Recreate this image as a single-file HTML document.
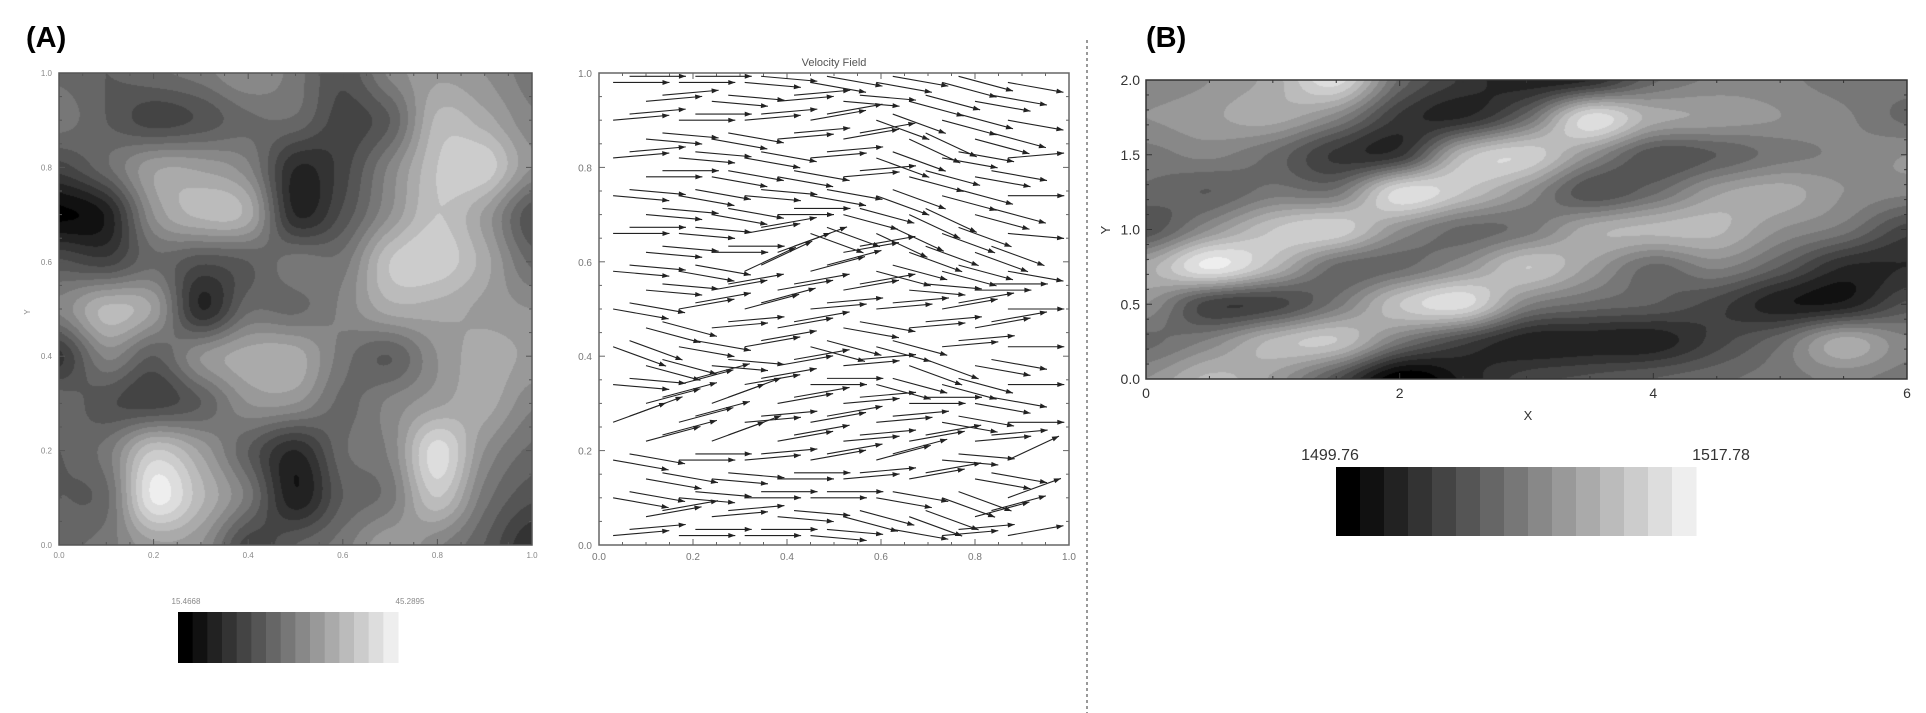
<!DOCTYPE html>
<html><head><meta charset="utf-8">
<style>
html,body{margin:0;padding:0;background:#fff;}
#root{position:relative;width:1926px;height:713px;overflow:hidden;background:#fff;font-family:"Liberation Sans",sans-serif;}
canvas{position:absolute;}
svg{position:absolute;left:0;top:0;}
.pl{position:absolute;font-weight:bold;font-size:29px;color:#000;}
</style></head>
<body>
<div id="root">
<div class="pl" style="left:26px;top:22px;">(A)</div>
<div class="pl" style="left:1146px;top:22px;">(B)</div>
<canvas id="cA" width="473" height="472" style="left:59px;top:73px;"></canvas>
<canvas id="cB" width="761" height="299" style="left:1146px;top:80px;"></canvas>
<svg id="sv" width="1926" height="713"></svg>
</div>
<script>
// ---- Panel A scalar field (rows: y=1.0 down to 0.0; cols x=0..1) ----
const gridA = [
[0.45,0.4,0.45,0.5,0.6,0.5,0.35,0.55,0.65,0.6,0.5],
[0.5,0.4,0.3,0.35,0.45,0.45,0.3,0.4,0.75,0.7,0.55],
[0.3,0.45,0.65,0.65,0.55,0.2,0.3,0.55,0.8,0.85,0.6],
[0.05,0.15,0.6,0.75,0.7,0.2,0.35,0.6,0.8,0.65,0.35],
[0.35,0.3,0.45,0.35,0.4,0.5,0.5,0.8,0.85,0.7,0.45],
[0.55,0.75,0.65,0.2,0.45,0.45,0.55,0.7,0.7,0.65,0.6],
[0.25,0.55,0.4,0.6,0.7,0.7,0.5,0.4,0.6,0.7,0.65],
[0.45,0.35,0.3,0.4,0.6,0.6,0.45,0.55,0.65,0.7,0.55],
[0.4,0.5,0.8,0.65,0.4,0.2,0.45,0.55,0.9,0.6,0.45],
[0.4,0.45,0.95,0.75,0.5,0.15,0.4,0.5,0.8,0.5,0.35],
[0.45,0.5,0.65,0.6,0.3,0.4,0.5,0.65,0.55,0.4,0.2]
];
// ---- Panel B scalar field (rows: y=2.0 down to 0.0; cols x=0..6 step 0.5) ----
const gridB = [
[0.55,0.6,0.7,0.9,0.45,0.25,0.15,0.2,0.45,0.55,0.55,0.5,0.5],
[0.6,0.65,0.7,0.55,0.25,0.2,0.45,0.9,0.7,0.65,0.6,0.55,0.45],
[0.5,0.55,0.45,0.25,0.25,0.75,0.85,0.6,0.35,0.4,0.5,0.55,0.6],
[0.45,0.4,0.5,0.5,0.9,0.8,0.6,0.35,0.45,0.65,0.7,0.6,0.55],
[0.35,0.6,0.8,0.85,0.6,0.45,0.5,0.7,0.75,0.75,0.6,0.5,0.3],
[0.7,0.95,0.75,0.45,0.45,0.6,0.8,0.65,0.45,0.55,0.4,0.2,0.2],
[0.6,0.3,0.3,0.5,0.8,0.9,0.55,0.45,0.4,0.3,0.15,0.15,0.35],
[0.45,0.55,0.75,0.8,0.5,0.3,0.15,0.15,0.15,0.3,0.45,0.7,0.55],
[0.6,0.75,0.65,0.35,0.0,0.15,0.3,0.35,0.4,0.45,0.5,0.55,0.5]
];
// ---- Velocity field: arrow angles (deg) per row (y bottom->top) ----
const velY = [0.02,0.06,0.10,0.14,0.18,0.22,0.26,0.30,0.34,0.38,0.42,0.46,0.50,0.54,0.58,0.62,0.66,0.70,0.74,0.78,0.82,0.86,0.90,0.94,0.98];
const velAngle = [
[5,0,0,-5,-10,5,10],[10,5,-5,-15,-20,15,10],[-10,-5,0,0,-10,-20,20],[-10,-5,0,5,10,-10,20],
[-10,0,5,10,15,-5,25],[15,20,10,5,10,5,15],[20,15,5,10,5,-10,0],[15,20,10,5,0,-10,-5],
[-5,15,10,0,-15,-15,0],[-15,-5,10,5,-20,-10,0],[-20,-10,10,-15,-15,5,0],[-15,5,10,-10,5,10,0],
[-10,10,15,5,5,10,0],[-5,10,10,10,-5,0,-5],[-5,-10,25,15,-15,-15,-10],[-5,0,20,10,-20,-20,-5],
[0,-5,10,-20,-25,-20,-5],[-5,-10,0,-15,-25,-15,-5],[-5,-10,-5,-10,-20,-15,0],[0,-10,-10,5,-15,-10,0],
[5,-5,-10,5,-20,-10,5],[-5,-10,5,10,-25,-15,5],[5,0,5,10,-20,-15,-10],[5,-5,5,-5,-15,-10,-5],[0,0,-5,-10,-10,-15,-10]
];
const velLen = 0.12;
const ticksA = ["0.0","0.2","0.4","0.6","0.8","1.0"];
const ticksBx = ["0","2","4","6"];
const ticksBy = ["0.0","0.5","1.0","1.5","2.0"];
const cbA = ["15.4668","45.2895"];
const cbB = ["1499.76","1517.78"];
const nLevels = 15;

function cr(p0,p1,p2,p3,t){return p1+0.5*t*(p2-p0+t*(2*p0-5*p1+4*p2-p3+t*(3*(p1-p2)+p3-p0)));}
function sample(g,u,v){
  const ny=g.length,nx=g[0].length;
  const ix=Math.floor(u),iy=Math.floor(v),tx=u-ix,ty=v-iy;
  const G=(r,c)=>g[Math.max(0,Math.min(ny-1,r))][Math.max(0,Math.min(nx-1,c))];
  const rows=[];
  for(let k=-1;k<3;k++){rows.push(cr(G(iy+k,ix-1),G(iy+k,ix),G(iy+k,ix+1),G(iy+k,ix+2),tx));}
  return cr(rows[0],rows[1],rows[2],rows[3],ty);
}
function drawHeat(id,g){
  const c=document.getElementById(id),ctx=c.getContext('2d');
  const w=c.width,h=c.height,img=ctx.createImageData(w,h);
  const nx=g[0].length,ny=g.length;
  for(let py=0;py<h;py++)for(let px=0;px<w;px++){
    const val=sample(g,px/(w-1)*(nx-1),py/(h-1)*(ny-1));
    let lv=Math.floor(val*nLevels);lv=Math.max(0,Math.min(nLevels-1,lv));
    const gr=lv*17,i=(py*w+px)*4;
    img.data[i]=gr;img.data[i+1]=gr;img.data[i+2]=gr;img.data[i+3]=255;
  }
  ctx.putImageData(img,0,0);
}
drawHeat('cA',gridA);drawHeat('cB',gridB);

const NS='http://www.w3.org/2000/svg',sv=document.getElementById('sv');
function mk(tag,at,parent){const e=document.createElementNS(NS,tag);for(const k in at)e.setAttribute(k,at[k]);(parent||sv).appendChild(e);return e;}
function txt(s,x,y,size,fill,anchor,name){const t=mk('text',{x:x,y:y,'font-size':size,fill:fill,'text-anchor':anchor||'middle','font-family':'Liberation Sans, sans-serif'});t.textContent=s;


return t;}

// generic IDL-style frame with ticks
function frame(x0,y0,x1,y1,xmin,xmax,xmaj,xmin_,ymin,ymax,ymaj,ymin_,col,name){
  const f=mk('rect',{x:x0,y:y0,width:x1-x0,height:y1-y0,fill:'none',stroke:col,'stroke-width':1.5});
  
  
  const sx=v=>x0+(v-xmin)/(xmax-xmin)*(x1-x0), sy=v=>y1-(v-ymin)/(ymax-ymin)*(y1-y0);
  for(let v=xmin;v<=xmax+1e-9;v+=xmin_){const maj=Math.abs(v/xmaj-Math.round(v/xmaj))<1e-6;const L=maj?6:3;
    mk('line',{x1:sx(v),x2:sx(v),y1:y1,y2:y1-L,stroke:col,'stroke-width':1});mk('line',{x1:sx(v),x2:sx(v),y1:y0,y2:y0+L,stroke:col,'stroke-width':1});}
  for(let v=ymin;v<=ymax+1e-9;v+=ymin_){const maj=Math.abs(v/ymaj-Math.round(v/ymaj))<1e-6;const L=maj?6:3;
    mk('line',{x1:x0,x2:x0+L,y1:sy(v),y2:sy(v),stroke:col,'stroke-width':1});mk('line',{x1:x1,x2:x1-L,y1:sy(v),y2:sy(v),stroke:col,'stroke-width':1});}
  return {sx,sy};
}

// Panel A heatmap axes
const fa=frame(59,73,532,545,0,1,0.2,0.05,0,1,0.2,0.05,'#555','heatmap-a-frame');
ticksA.forEach((t,i)=>{const v=i*0.2;txt(t,fa.sx(v),558,8,'#888','middle','heatmap-a-x-tick');txt(t,52,fa.sy(v)+3,8,'#888','end','heatmap-a-y-tick');});
const ya=txt('Y',30,312,8,'#888','middle','heatmap-a-y-title');ya.setAttribute('transform','rotate(-90 30 312)');

// Colorbar A
for(let i=0;i<nLevels;i++){const r=mk('rect',{x:178+i*220/nLevels,y:612,width:220/nLevels+0.5,height:51,fill:`rgb(${i*17},${i*17},${i*17})`});

}
txt(cbA[0],186,604,8,'#888','middle','colorbar-a-min');txt(cbA[1],410,604,8,'#888','middle','colorbar-a-max');

// Velocity field
const fv=frame(599,73,1069,545,0,1,0.2,0.05,0,1,0.2,0.05,'#666','velocity-frame');
txt('Velocity Field',834,66,11,'#555','middle','velocity-title');
ticksA.forEach((t,i)=>{const v=i*0.2;txt(t,fv.sx(v),560,10,'#777','middle','velocity-x-tick');txt(t,592,fv.sy(v)+4,10,'#777','end','velocity-y-tick');});
const ag=mk('g',{});


velY.forEach((yv,r)=>{velAngle[r].forEach((ang,c)=>{
  for(let k=0;k<2;k++){
    const xs=0.03+c*0.14+(r%2)*0.07+k*0.035, ys=yv+k*0.013;
    const a=ang*Math.PI/180;
    const xe=xs+velLen*Math.cos(a), ye=ys+velLen*Math.sin(a);
    if(xe>1||ye>1||ye<0)continue;
    const X0=fv.sx(xs),Y0=fv.sy(ys),X1=fv.sx(xe),Y1=fv.sy(ye);
    const ln=mk('line',{x1:X0,y1:Y0,x2:X1,y2:Y1,stroke:'#222','stroke-width':1.1},ag);
    
    
    const dx=Math.cos(a),dy=-Math.sin(a),px=-dy,py=dx;
    const hp=mk('polygon',{points:`${X1},${Y1} ${X1-7*dx+2.5*px},${Y1-7*dy+2.5*py} ${X1-7*dx-2.5*px},${Y1-7*dy-2.5*py}`,fill:'#222'},ag);
    
    
  }
});});

// Divider
const dv=mk('line',{x1:1087,x2:1087,y1:40,y2:713,stroke:'#333','stroke-width':1,'stroke-dasharray':'3,3'});



// Panel B axes
const fb=frame(1146,80,1907,379,0,6,2,0.5,0,2,0.5,0.1,'#333','heatmap-b-frame');
ticksBx.forEach((t,i)=>txt(t,fb.sx(i*2),398,14,'#333','middle','heatmap-b-x-tick'));
ticksBy.forEach((t,i)=>txt(t,1140,fb.sy(i*0.5)+5,14,'#333','end','heatmap-b-y-tick'));
txt('X',1528,420,13,'#333','middle','heatmap-b-x-title');
const yb=txt('Y',1110,230,13,'#333','middle','heatmap-b-y-title');yb.setAttribute('transform','rotate(-90 1110 230)');

// Colorbar B
for(let i=0;i<nLevels;i++){const r=mk('rect',{x:1336+i*360/nLevels,y:467,width:360/nLevels+0.5,height:69,fill:`rgb(${i*17},${i*17},${i*17})`});

}
txt(cbB[0],1330,460,16,'#333','middle','colorbar-b-min');txt(cbB[1],1721,460,16,'#333','middle','colorbar-b-max');
</script>
</body></html>
